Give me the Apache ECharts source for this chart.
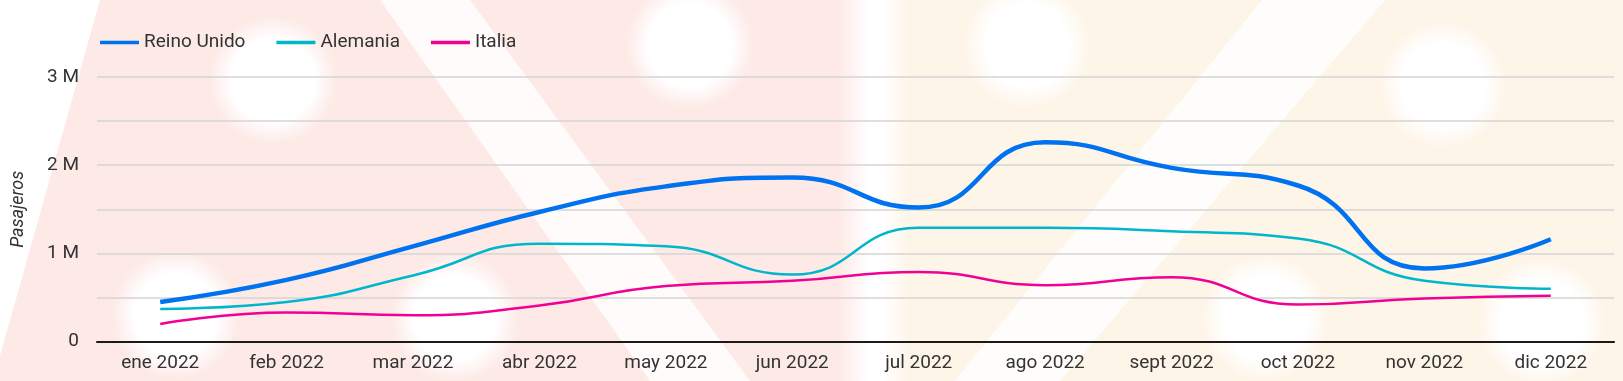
<!DOCTYPE html>
<html>
<head>
<meta charset="utf-8">
<script src="https://cdn.jsdelivr.net/npm/echarts@6/dist/echarts.min.js"></script>
<style>
  html, body { margin: 0; padding: 0; background: #ffffff; }
  #chart { width: 1623px; height: 381px; }
</style>
</head>
<body>
<div id="chart"></div>
<script>
// ---- data ----
const months = ['ene 2022', 'feb 2022', 'mar 2022', 'abr 2022', 'may 2022', 'jun 2022',
                'jul 2022', 'ago 2022', 'sept 2022', 'oct 2022', 'nov 2022', 'dic 2022'];
const reinoUnido = [450000, 700000, 1080000, 1470000, 1760000, 1860000,
                    1520000, 2260000, 1970000, 1770000, 830000, 1160000];
const alemania   = [370000, 450000, 750000, 1110000, 1080000, 760000,
                    1290000, 1290000, 1250000, 1170000, 690000, 600000];
const italia     = [200000, 330000, 300000, 410000, 630000, 690000,
                    790000, 640000, 730000, 420000, 490000, 520000];
const seriesNames = ['Reino Unido', 'Alemania', 'Italia'];
const yTicks = [0, 1000000, 2000000, 3000000];
const yTickLabels = ['0', '1 M', '2 M', '3 M'];

// ---- decorative faded background ----
function softCircle(cx, cy, r) {
  return {
    type: 'circle', silent: true, z: -90,
    shape: { cx: cx, cy: cy, r: r },
    style: {
      fill: {
        type: 'radial', x: 0.5, y: 0.5, r: 0.5,
        colorStops: [
          { offset: 0, color: 'rgba(255,255,255,1)' },
          { offset: 0.65, color: 'rgba(255,255,255,1)' },
          { offset: 1, color: 'rgba(255,255,255,0)' }
        ]
      }
    }
  };
}
const pink = 'rgb(253,234,231)';
const peach = 'rgb(254,245,233)';
const bg = [
  { type: 'polygon', silent: true, z: -100,
    shape: { points: [[100, 0], [858, 0], [858, 381], [-7, 381]] },
    style: { fill: pink } },
  { type: 'rect', silent: true, z: -100,
    shape: { x: 840, y: 0, width: 70, height: 381 },
    style: { fill: { type: 'linear', x: 0, y: 0, x2: 1, y2: 0,
      colorStops: [ { offset: 0, color: pink }, { offset: 0.4, color: '#ffffff' },
                    { offset: 0.6, color: '#ffffff' }, { offset: 1, color: peach } ] } } },
  { type: 'polygon', silent: true, z: -99,
    shape: { points: [[380, 0], [470, 0], [750, 381], [650, 381]] },
    style: { fill: 'rgba(255,255,255,0.8)' } },
  { type: 'polygon', silent: true, z: -100,
    shape: { points: [[910, 0], [1623, 0], [1623, 381], [910, 381]] },
    style: { fill: peach } },
  { type: 'polygon', silent: true, z: -99,
    shape: { points: [[1262, 0], [1385, 0], [1060, 381], [955, 381]] },
    style: { fill: 'rgba(255,255,255,0.8)' } },
  softCircle(273, 80, 64),
  softCircle(176, 315, 64),
  softCircle(455, 318, 64),
  softCircle(690, 45, 64),
  softCircle(1027, 45, 64),
  softCircle(1443, 85, 64),
  softCircle(1265, 318, 64),
  softCircle(1542, 322, 64)
];

const chart = echarts.init(document.getElementById('chart'), null, { renderer: 'canvas' });
const textColor = '#333333';
const font = 'Roboto, "Noto Sans", sans-serif';

chart.setOption({
  animation: false,
  backgroundColor: '#ffffff',
  color: ['#0072f0', '#00b6cb', '#f10096'],
  graphic: bg,
  legend: {
    data: seriesNames,
    icon: 'rect',
    left: 95,
    top: 28,
    itemWidth: 39,
    itemHeight: 3.5,
    itemGap: 31,
    textStyle: { fontSize: 19, color: textColor, fontFamily: font }
  },
  grid: { left: 97, right: 9, top: 77, bottom: 39.4, containLabel: false },
  xAxis: {
    type: 'category',
    data: months,
    boundaryGap: true,
    axisLine: { show: true, lineStyle: { color: '#1a1a1a', width: 2 } },
    axisTick: { show: false },
    axisLabel: { fontSize: 19, color: textColor, fontFamily: font, margin: 12, interval: 0 },
    splitLine: { show: false }
  },
  yAxis: {
    type: 'value',
    min: 0,
    max: 3000000,
    interval: 500000,
    name: 'Pasajeros',
    nameLocation: 'middle',
    nameGap: 70,
    nameTextStyle: { fontSize: 18, color: textColor, fontStyle: 'italic', fontFamily: font },
    axisLine: { show: false },
    axisTick: { show: false },
    axisLabel: {
      fontSize: 19, color: textColor, fontFamily: font, margin: 18,
      formatter: function (v) {
        const i = yTicks.indexOf(v);
        return i >= 0 ? yTickLabels[i] : '';
      }
    },
    splitLine: { show: true, lineStyle: { color: '#d4d4d4', width: 1.5 } }
  },
  series: [
    { name: seriesNames[0], type: 'line', data: reinoUnido, smooth: true, symbol: 'none',
      lineStyle: { width: 4.5 }, z: 4 },
    { name: seriesNames[1], type: 'line', data: alemania, smooth: true, symbol: 'none',
      lineStyle: { width: 2.5 }, z: 3 },
    { name: seriesNames[2], type: 'line', data: italia, smooth: true, symbol: 'none',
      lineStyle: { width: 2.5 }, z: 3 }
  ]
});
</script>
</body>
</html>
